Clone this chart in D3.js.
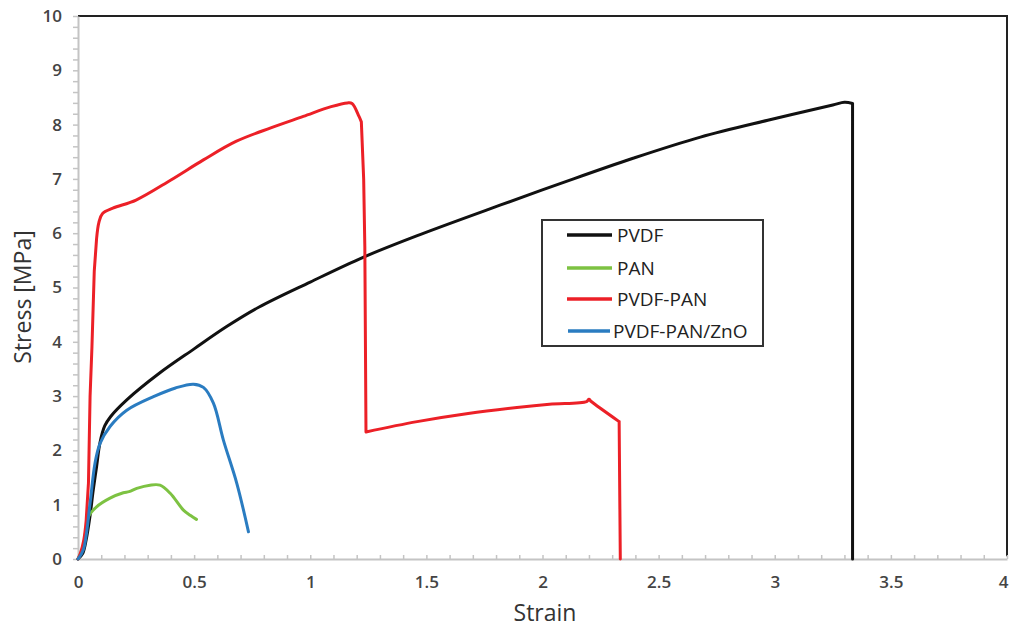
<html>
<script src='https://d3js.org/d3.v7.min.js'></script>
<style>
body {margin: 0; background: white;}
text {font-family: "Open Sans", sans-serif;}
.curve {fill: none; stroke-width: 3; stroke-linejoin: round; stroke-linecap: round;}
</style>
<body onload='init()'>
<svg width=1009 height=631>
</svg>
<script>
// values, [strain, stress]
var pvdf = [[0,0],[0.02,0.1],[0.035,0.35],[0.052,0.8],[0.065,1.25],[0.08,1.7],[0.095,2.15],
  [0.115,2.45],[0.14,2.62],[0.21,2.93],[0.35,3.42],[0.5,3.87],[0.64,4.28],[0.78,4.64],[1.0,5.1],
  [1.23,5.56],[1.47,5.97],[1.82,6.52],[2.1,6.95],[2.39,7.38],[2.68,7.77],[2.97,8.08],
  [3.25,8.36],[3.3,8.41],[3.335,8.39],[3.335,0]];
var pan = [[0,0],[0.02,0.2],[0.035,0.55],[0.045,0.78],[0.08,0.96],[0.138,1.12],[0.195,1.22],
  [0.22,1.24],[0.253,1.3],[0.31,1.36],[0.353,1.36],[0.397,1.21],[0.454,0.9],[0.485,0.8],[0.51,0.73]];
var pvdfPan = [[0,0],[0.01,0.1],[0.025,0.35],[0.035,0.7],[0.045,1.4],[0.052,3.0],[0.06,3.9],
  [0.07,5.3],[0.08,5.9],[0.09,6.2],[0.105,6.36],[0.15,6.46],[0.25,6.61],[0.4,6.98],[0.54,7.35],
  [0.68,7.69],[0.83,7.94],[0.97,8.15],[1.09,8.33],[1.16,8.4],[1.18,8.39],[1.21,8.15],[1.22,8.05],
  [1.23,7.0],[1.235,5.75],[1.24,2.34],[1.46,2.53],[1.68,2.68],[1.89,2.79],[2.03,2.85],[2.19,2.9],
  [2.2,2.94],[2.21,2.9],[2.33,2.53],[2.335,0]];
var pvdfPanZno = [[0,0],[0.023,0.17],[0.052,1.03],[0.073,1.76],[0.095,2.13],[0.138,2.44],
  [0.21,2.74],[0.325,2.99],[0.42,3.15],[0.497,3.22],[0.54,3.16],[0.583,2.87],[0.626,2.19],
  [0.684,1.39],[0.734,0.5]];

var names = ["PVDF", "PAN", "PVDF-PAN", "PVDF-PAN/ZnO"];
var colors = ["#111111", "#7dc242", "#ec2027", "#2a7cc1"];
var series = [pvdf, pan, pvdfPan, pvdfPanZno];
var xTicks = [0, 0.5, 1, 1.5, 2, 2.5, 3, 3.5, 4];
var yTicks = [0, 1, 2, 3, 4, 5, 6, 7, 8, 9, 10];

function init() {
  var svg = d3.select("svg");
  var x = d3.scaleLinear().domain([0, 4]).range([78, 1007]);
  var y = d3.scaleLinear().domain([0, 10]).range([559, 16]);

  // frame top and right
  svg.append("path").attr("d", "M" + x(0) + "," + y(10) + "H" + x(4) + "V" + y(0.05))
     .attr("fill", "none").attr("stroke", "#222").attr("stroke-width", 2);

  // x axis: minor ticks pointing up, labels below
  var gx = svg.append("g").attr("transform", "translate(0," + y(0) + ")");
  gx.call(d3.axisBottom(x).tickValues(d3.range(0, 41).map(function(i){ return i / 10; }))
      .tickSizeInner(-4).tickSizeOuter(0).tickFormat(""));
  gx.select(".domain").attr("stroke", "#c4c4c4").attr("stroke-width", 2);
  gx.selectAll(".tick line").attr("stroke", "#c4c4c4").attr("stroke-width", 1.5);
  var gxl = svg.append("g").attr("transform", "translate(0," + y(0) + ")");
  gxl.call(d3.axisBottom(x).tickValues(xTicks).tickSize(0).tickPadding(17).tickFormat(d3.format("~g")));
  gxl.select(".domain").remove();
  gxl.selectAll("text").attr("font-size", 17).attr("font-weight", 600).attr("fill", "#444")
     .style("font-family", "'Open Sans'");
  // last label sits on the window edge; keep it inside
  gxl.selectAll("text").filter(function(d){ return d == 4; }).attr("text-anchor", "end").attr("dx", 1);

  // y axis: minor ticks outward
  var gy = svg.append("g").attr("transform", "translate(" + x(0) + ",0)");
  gy.call(d3.axisLeft(y).tickValues(d3.range(0, 51).map(function(i){ return i / 5; }))
      .tickSizeInner(5).tickSizeOuter(0).tickFormat(""));
  gy.select(".domain").attr("stroke", "#c4c4c4").attr("stroke-width", 2);
  gy.selectAll(".tick line").attr("stroke", "#c4c4c4").attr("stroke-width", 1.5);
  var gyl = svg.append("g").attr("transform", "translate(" + x(0) + ",0)");
  gyl.call(d3.axisLeft(y).tickValues(yTicks).tickSize(0).tickPadding(16).tickFormat(d3.format("d")));
  gyl.select(".domain").remove();
  gyl.selectAll("text").attr("font-size", 17).attr("font-weight", 600).attr("fill", "#444")
     .style("font-family", "'Open Sans'");

  // axis titles
  svg.append("text").attr("x", 545).attr("y", 621).attr("text-anchor", "middle")
     .attr("font-size", 23).attr("fill", "#333").text("Strain");
  svg.append("text").attr("transform", "translate(31,297) rotate(-90)").attr("text-anchor", "middle")
     .attr("font-size", 23).attr("fill", "#333").text("Stress [MPa]");

  // curves: smooth pieces, straight where the curve drops almost vertically
  var smooth = d3.line().curve(d3.curveCatmullRom.alpha(0.5))
     .x(function(d){ return x(d[0]); }).y(function(d){ return y(d[1]); });
  var straight = d3.line().x(function(d){ return x(d[0]); }).y(function(d){ return y(d[1]); });
  function curvePath(pts) {
    var out = "", piece = [pts[0]];
    for (var i = 1; i < pts.length; i++) {
      var dx = Math.abs(x(pts[i][0]) - x(pts[i-1][0])), dy = Math.abs(y(pts[i][1]) - y(pts[i-1][1]));
      if (dx < 3 && dy > 30) {
        if (piece.length > 1) out += smooth(piece);
        out += straight([pts[i-1], pts[i]]);
        piece = [pts[i]];
      } else {
        piece.push(pts[i]);
      }
    }
    if (piece.length > 1) out += smooth(piece);
    return out;
  }
  svg.selectAll(".curve").data(series).enter().append("path")
     .attr("class", "curve")
     .attr("stroke", function(d, i){ return colors[i]; })
     .attr("d", curvePath);

  // legend
  var lg = svg.append("g");
  lg.append("rect").attr("x", 542).attr("y", 220).attr("width", 221).attr("height", 126)
    .attr("fill", "white").attr("stroke", "#333").attr("stroke-width", 2);
  var rows = [235, 268, 299, 331];
  names.forEach(function(n, i) {
    lg.append("line").attr("x1", i == 3 ? 568 : 567).attr("x2", i == 3 ? 610 : 612)
      .attr("y1", rows[i]).attr("y2", rows[i])
      .attr("stroke", colors[i]).attr("stroke-width", 3.5);
    lg.append("text").attr("x", i == 3 ? 613 : 617).attr("y", rows[i] + 7)
      .attr("font-size", 19).attr("fill", "#222").text(n);
  });
}
</script>
</body>
</html>
